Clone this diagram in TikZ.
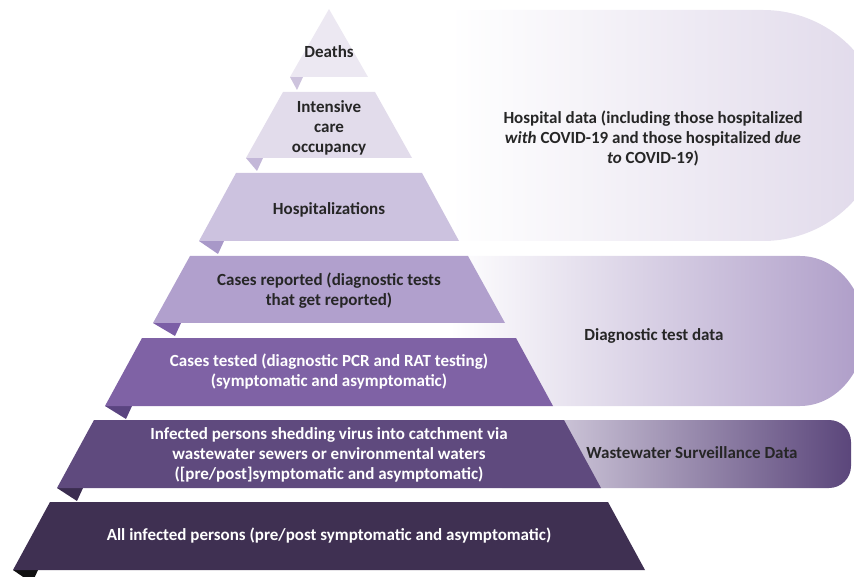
\documentclass[tikz,border=0pt]{standalone}
\usepackage{fontspec}
\setmainfont{Carlito}

\definecolor{lay1}{HTML}{ECE8F2}
\definecolor{lay2}{HTML}{E2DCEB}
\definecolor{lay3}{HTML}{CCC2DF}
\definecolor{lay4}{HTML}{B1A0CD}
\definecolor{lay5}{HTML}{7F62A5}
\definecolor{lay6}{HTML}{5F4A7E}
\definecolor{lay7}{HTML}{3F3052}
\definecolor{tab1}{HTML}{CDC3DD}
\definecolor{tab2}{HTML}{C3B7D8}
\definecolor{tab3}{HTML}{A898C8}
\definecolor{tab4}{HTML}{7B5EA6}
\definecolor{tab5}{HTML}{5A4480}
\definecolor{tab6}{HTML}{3B2D50}
\definecolor{tab7}{HTML}{111111}
\definecolor{hband}{HTML}{E0D9EA}
\definecolor{dband}{HTML}{AE9DC8}
\definecolor{wleft}{HTML}{EAE6F0}
\definecolor{wright}{HTML}{5B467B}
\definecolor{txt}{HTML}{262626}

\tikzset{
  lbl/.style={font=\bfseries\fontsize{17}{20}\selectfont, align=center, text=txt},
  lblw/.style={lbl, text=white},
}

\begin{document}
\begin{tikzpicture}[x=1pt,y=-1pt]

	\useasboundingbox (0,0) rectangle (854,577);
	\clip (0,0) rectangle (854,577);

	\shade[left color=white, right color=hband] (450,10) -- (763,10)
		.. controls (829,10) and (883,62) .. (883,125.5)
		.. controls (883,189) and (829,241) .. (763,241) -- (450,241) -- cycle;
	\shade[left color=white, right color=dband] (450,256) -- (800,256)
		.. controls (836,256) and (865,290) .. (865,331)
		.. controls (865,372) and (836,406) .. (800,406) -- (450,406) -- cycle;
	\shade[left color=wleft, right color=wright, rounded corners=22pt] (480,420) rectangle (851,488);

	\foreach \i/\yt/\yb/\wt/\wb/\tw in {1/9/77/0/39/13, 2/92/158/46/83/17,
		3/173/241/93/130/25, 4/256/323/139/176/28, 5/338/406/187/224/27,
		6/420/488/235/272/26, 7/502/570/279/316/25}{
		\fill[tab\i] (329-\wb,\yb) -- ++(\tw,0) -- ++(-6,13) -- cycle;
		\fill[lay\i] (329-\wt,\yt) -- (329+\wt,\yt) -- (329+\wb,\yb) -- (329-\wb,\yb) -- cycle;
	}

	\node[lbl] (deaths) at (329,52) {Deaths};
	\node[lbl] (icu) at (329,128) {Intensive\\care\\occupancy};
	\node[lbl] (hosp) at (329,210) {Hospitalizations};
	\node[lbl] (rep) at (329,291) {Cases reported (diagnostic tests\\that get reported)};
	\node[lblw] (test) at (329,372) {Cases tested (diagnostic PCR and RAT testing)\\(symptomatic and asymptomatic)};
	\node[lblw] (shed) at (329,455) {Infected persons shedding virus into catchment via\\wastewater sewers or environmental waters\\({[pre/post]}symptomatic and asymptomatic)};
	\node[lblw] (all) at (329,536) {All infected persons (pre/post symptomatic and asymptomatic)};

	\node[lbl] (hdata) at (653,138) {Hospital data (including those hospitalized\\\textit{with} COVID-19 and those hospitalized \textit{due}\\\textit{to} COVID-19)};
	\node[lbl] (ddata) at (654,336) {Diagnostic test data};
	\node[lbl] (wdata) at (692,453) {Wastewater Surveillance Data};

\end{tikzpicture}
\end{document}
